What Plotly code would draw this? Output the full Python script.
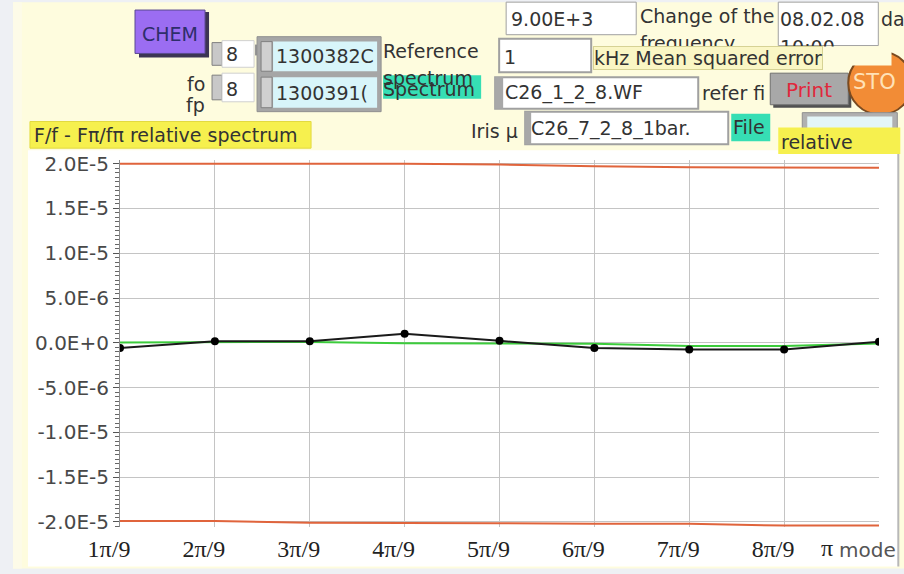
import plotly.graph_objects as go

# ---------------- data ----------------
modes = [1, 2, 3, 4, 5, 6, 7, 8, 9]
mode_labels = ["1π/9", "2π/9", "3π/9", "4π/9", "5π/9", "6π/9", "7π/9", "8π/9", ""]
relative_spectrum = [-5.9e-7, 1.8e-7, 1.8e-7, 1.02e-6, 2.2e-7, -5.9e-7, -7.4e-7, -7.4e-7, 1.1e-7]
fit_curve = [0.3e-7, 1.0e-7, 1.0e-7, -0.5e-7, -0.5e-7, -1.0e-7, -3.7e-7, -3.7e-7, -0.8e-7]
upper_limit = [2.0e-5, 2.0e-5, 2.0e-5, 2.0e-5, 1.99e-5, 1.97e-5, 1.96e-5, 1.955e-5, 1.955e-5]
lower_limit = [-1.99e-5, -1.99e-5, -2.01e-5, -2.01e-5, -2.015e-5, -2.02e-5, -2.02e-5, -2.04e-5, -2.04e-5]
y_tick_vals = [2.0e-5, 1.5e-5, 1.0e-5, 5.0e-6, 0.0, -5.0e-6, -1.0e-5, -1.5e-5, -2.0e-5]
y_tick_text = ["2.0E-5", "1.5E-5", "1.0E-5", "5.0E-6", "0.0E+0", "-5.0E-6", "-1.0E-5", "-1.5E-5", "-2.0E-5"]

# ---------------- geometry ----------------
W, H = 904, 574
L, R, T, B = 120, 878.7, 160, 532
px_per_unit = 45.4 / 5e-6
zero_px = 345.3
y_range = [-(B - zero_px) / px_per_unit, (zero_px - T) / px_per_unit]


def px(x):
    return (x - L) / (R - L)


def py(y):
    return (B - y) / (B - T)


shapes = []
anns = []


def rect(x0, y0, x1, y1, fill, line=None, lw=1, layer="below"):
    shapes.append(dict(type="rect", xref="paper", yref="paper",
                       x0=px(x0), x1=px(x1), y0=py(y1), y1=py(y0),
                       fillcolor=fill, layer=layer,
                       line=dict(color=line if line else fill, width=lw if line else 0)))


def seg(x0, y0, x1, y1, color, lw=1):
    shapes.append(dict(type="line", xref="paper", yref="paper",
                       x0=px(x0), x1=px(x1), y0=py(y0), y1=py(y1),
                       layer="below", line=dict(color=color, width=lw)))


def text(x, y, s, size=19, color="#333333", anchor="left", family="DejaVu Sans", **kw):
    anns.append(dict(x=px(x), y=py(y), xref="paper", yref="paper", text=s,
                     showarrow=False, xanchor=anchor, yanchor="middle",
                     font=dict(family=family, size=size, color=color), **kw))


def cover(x0, y0, x1, y1, color):
    anns.append(dict(x=px(x0), y=py(y0), xref="paper", yref="paper", text=" ",
                     showarrow=False, xanchor="left", yanchor="top",
                     width=x1 - x0, height=y1 - y0, bgcolor=color, borderpad=0,
                     font=dict(size=4)))


YEL = "#fefcde"
BRIGHT = "#f6f04e"
TEAL = "#36deb4"
CYAN = "#d8f5fa"
FRAME = "#a6a6a6"

# background panels
rect(13, 0, 904, 574, YEL)
rect(13, 0, 22, 574, "#fdfbe8")
rect(28, 150, 898, 572, "#ffffff")
seg(898, 150, 898, 572, "#b8b8b8", 2)

# CHEM button
rect(139, 10, 209, 56, "#3c3454")
rect(135, 8, 205, 52, "#9b6df2", "#5a4a90", 1)
text(170, 32, "CHEM", 19, "#2e2e6a", "center")

# small numeric controls "8"
for yc, y0, y1 in [(53, 39, 66), (88, 72, 101)]:
    rect(212, y0 + 2, 222, y1 - 2, "#c8c8c8", "#808080")
    rect(222, y0, 254, y1, "#ffffff", "#d0d0d0")
    text(224, yc, "8", 19, "#333333")
seg(256, 43, 256, 54, "#909090", 2)

# cyan numeric controls
rect(257, 35, 381, 111, FRAME, "#909090")
for yc, y0, y1, s in [(55, 40, 70, "1300382C"), (92, 76, 107, "1300391(")]:
    rect(261, y0, 272, y1, "#d0d0d0", "#808080")
    rect(273, y0, 377, y1, CYAN)
    text(274, yc, s, 19, "#333333")

text(207, 83, "fo", 19, "#333333", "right")
text(207, 104, "fp", 19, "#333333", "right")

# Reference spectrum
text(381, 50, "Reference", 19, "#333333")
rect(383, 74, 481, 98, TEAL)
text(381, 77, "spectrum", 19, "#333333")
text(381, 88, "Spectrum", 19, "#333333")

# top right controls
rect(506, 0, 636, 33, "#ffffff", "#a0a0a0")
text(509, 17, "9.00E+3", 19, "#333333")
text(638, 14, "Change of the", 19, "#333333")
text(638, 41, "frequency", 19, "#333333")
rect(778, 0, 878, 44, "#ffffff", "#a0a0a0")
text(778, 17, "08.02.08", 19, "#333333")
text(778, 45, "10:00", 19, "#333333")
text(879, 17, "da", 19, "#333333")
cover(636, 44, 890, 62, YEL)

rect(499, 37, 591, 71, "#ffffff", "#a0a0a0", 2)
text(502, 56, "1", 19, "#333333")
anns.append(dict(x=px(593), y=py(57), xref="paper", yref="paper",
                 text="kHz Mean squared error", showarrow=False, xanchor="left",
                 yanchor="middle", bgcolor="#faf6c4", bordercolor="#d6d294",
                 borderwidth=1, borderpad=0,
                 font=dict(family="DejaVu Sans", size=19, color="#333333")))

# file name row
rect(495, 76, 698, 108, "#ffffff", "#a0a0a0", 2)
rect(495, 76, 503, 108, "#a8a8a8")
text(503, 92, "C26_1_2_8.WF", 19, "#333333")
text(700, 92, "refer fi", 19, "#333333")
rect(773, 75, 851, 107, "#505050")
rect(770, 72, 848, 104, "#a8a8a8", "#707070")
text(809, 89, "Print", 20, "#e0283c", "center")

shapes.append(dict(type="circle", xref="paper", yref="paper",
                   x0=px(848), x1=px(912), y0=py(114), y1=py(50),
                   fillcolor="#f28c36", line=dict(color="#7a4a20", width=2), layer="below"))
text(851, 81, "STO", 21, "#ffe2b8")

# Iris row
text(469, 131, "Iris µ", 19, "#333333")
rect(525, 111, 728, 144, "#ffffff", "#a0a0a0", 2)
rect(525, 111, 531, 144, "#a8a8a8")
text(529, 128, "C26_7_2_8_1bar.", 19, "#333333")
rect(731, 113, 770, 141, TEAL)
text(731, 127, "File", 19, "#333333")
rect(802, 112, 897, 135, "#b0b0b0", "#909090")
rect(807, 116, 892, 131, "#e4f6f8")
rect(778, 127, 900, 154, BRIGHT)
text(779, 142, "relative", 19, "#333333")

# chart title label
rect(30, 121, 311, 148, BRIGHT, "#e2da40")
text(32, 135, "F/f - Fπ/fπ relative spectrum", 19, "#333333")

# last x label
text(819, 553, "π", 24, "#222222", family="Liberation Serif")
text(837, 555, "mode", 20, "#555555")

# ---------------- traces ----------------
fig = go.Figure()
fig.add_trace(go.Scatter(x=modes, y=upper_limit, mode="lines",
                         line=dict(color="#e0643c", width=2), showlegend=False))
fig.add_trace(go.Scatter(x=modes, y=lower_limit, mode="lines",
                         line=dict(color="#e0643c", width=2), showlegend=False))
fig.add_trace(go.Scatter(x=modes, y=fit_curve, mode="lines",
                         line=dict(color="#3ccc3c", width=2), showlegend=False))
fig.add_trace(go.Scatter(x=modes, y=relative_spectrum, mode="lines+markers",
                         line=dict(color="#1a1a1a", width=2),
                         marker=dict(color="#000000", size=8), showlegend=False))

fig.update_layout(
    width=W, height=H,
    margin=dict(l=L, r=W - R, t=T, b=H - B, pad=0),
    paper_bgcolor="#eef0f4", plot_bgcolor="#ffffff",
    shapes=shapes, annotations=anns,
    showlegend=False,
    xaxis=dict(range=[1, 9], tickmode="array", tickvals=modes, ticktext=mode_labels,
               showgrid=True, gridcolor="#c4c4c4", gridwidth=1, zeroline=False,
               showline=False, ticks="", ticklabelshift=-11, ticklabelstandoff=5,
               tickfont=dict(family="Liberation Serif", size=24, color="#222222"),
               fixedrange=True),
    yaxis=dict(range=y_range, tickmode="array", tickvals=y_tick_vals, ticktext=y_tick_text,
               showgrid=True, gridcolor="#c4c4c4", gridwidth=1, zeroline=False,
               showline=True, linecolor="#8c8c8c", linewidth=1,
               ticks="outside", ticklen=6, tickcolor="#555555", tickwidth=1,
               minor=dict(dtick=5e-7, tick0=0, ticks="outside", ticklen=4,
                          tickcolor="#666666", showgrid=False),
               tickfont=dict(family="DejaVu Sans", size=20, color="#484848"),
               fixedrange=True),
)

fig.write_html(
    "out.html",
    config={"displayModeBar": False},
    post_script="document.body.style.margin='0';document.body.style.background='#eef0f4';document.body.style.overflow='hidden';",
)
